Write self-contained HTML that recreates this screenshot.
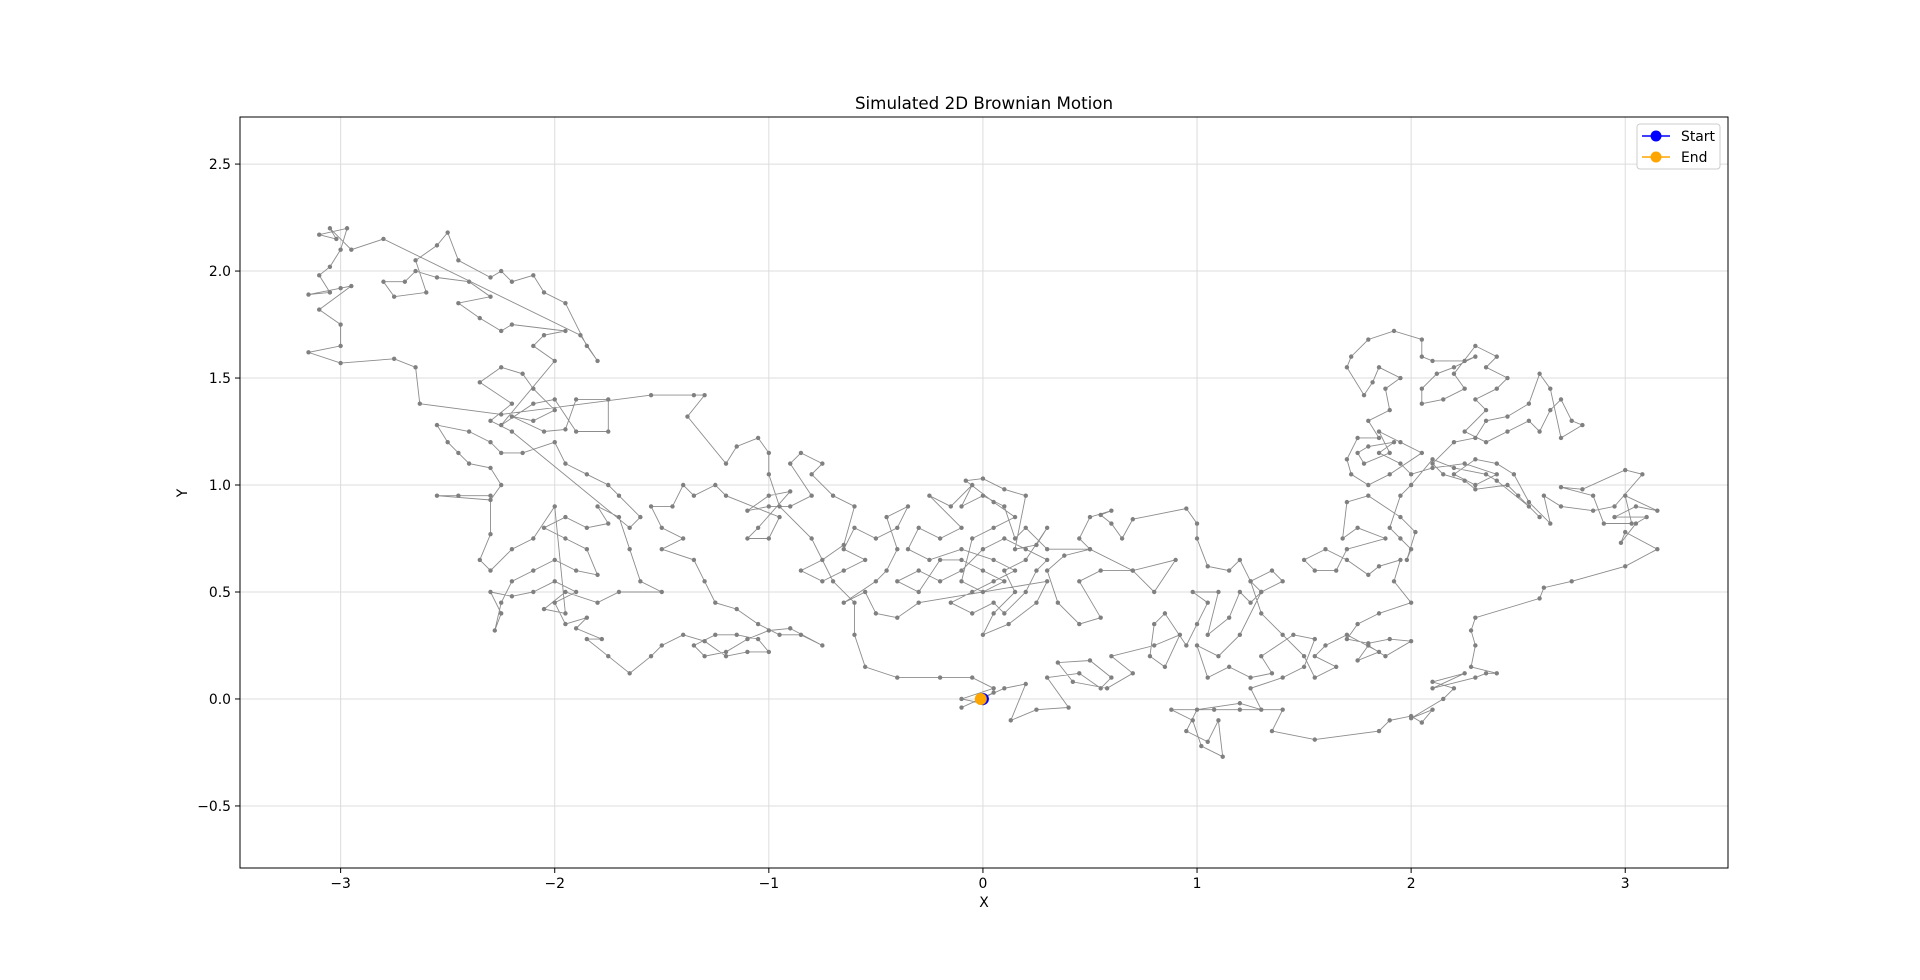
<!DOCTYPE html>
<html><head><meta charset="utf-8"><style>
html,body{margin:0;padding:0;background:#fff;}
svg text{font-family:"DejaVu Sans","Liberation Sans",sans-serif;fill:#000;}
</style></head><body>
<svg id="chart" width="1920" height="975" viewBox="0 0 1920 975" xmlns="http://www.w3.org/2000/svg">
<rect width="1920" height="975" fill="#fff"/>
<text x="984" y="109" font-size="16.7" text-anchor="middle">Simulated 2D Brownian Motion</text>
<g id="grid"></g>
<g id="series"></g>
<g id="axes"></g>
<text x="984" y="907" font-size="13.9" text-anchor="middle">X</text>
<text x="187" y="493" font-size="13.9" text-anchor="middle" transform="rotate(-90 187 493)">Y</text>
<g>
<rect x="1637" y="124" width="83" height="45" rx="3" fill="#fff" stroke="#ccc" stroke-width="1"/>
<g>
<line x1="1642" y1="136" x2="1670" y2="136" stroke="#0000ff" stroke-width="1.5"/>
<circle cx="1656" cy="136" r="5.5" fill="#0000ff"/>
<text x="1681" y="141" font-size="13.9">Start</text></g>
<g>
<line x1="1642" y1="157" x2="1670" y2="157" stroke="#ffa500" stroke-width="1.5"/>
<circle cx="1656" cy="157" r="5.5" fill="#ffa500"/>
<text x="1681" y="162" font-size="13.9">End</text></g>
</g>
</svg>
<script>
const xTicks=[-3,-2,-1,0,1,2,3];
const yTicks=[-0.5,0,0.5,1,1.5,2,2.5];
const xTickLabels=["\u22123","\u22122","\u22121","0","1","2","3"];
const yTickLabels=["\u22120.5","0.0","0.5","1.0","1.5","2.0","2.5"];
const xDomain=[-3.47,3.48];
const yDomain=[-0.79,2.72];
const startPoint=[0.0,0.0];
const endPoint=[-0.01,0.0];
const walkX=[];const walkY=[];
const walkPts=[
[0,0],[0.05,0.03],[-0.1,-0.04],[0.1,0.05],[0.2,0.07],[0.13,-0.1],[0.25,-0.05],[0.4,-0.04],[0.3,0.1],[0.45,0.12],[0.55,0.05],[0.6,0.1],[0.5,0.18],[0.35,0.17],[0.42,0.08],[0.58,0.05],[0.7,0.12],[0.6,0.2],[0.8,0.25],[0.92,0.3],[0.85,0.15],[0.78,0.2],[0.8,0.35],[0.85,0.4],[0.95,0.25],[1.0,0.35],[1.05,0.45],[0.98,0.5],[1.1,0.5],[1.05,0.3],[1.15,0.38],[1.2,0.5],[1.25,0.45],[1.3,0.5],[1.2,0.3],[1.1,0.2],[1.0,0.25],[1.05,0.1],[1.15,0.15],[1.25,0.1],[1.35,0.12],[1.3,0.2],[1.45,0.3],[1.55,0.28],[1.5,0.15],[1.4,0.1],[1.25,0.05],[1.3,-0.05],[1.2,-0.02],[1.0,-0.05],[0.95,-0.15],[1.05,-0.2],[1.1,-0.1],[1.12,-0.27],[1.02,-0.22],[0.98,-0.1],[0.88,-0.05],[1.08,-0.05],[1.2,-0.05],[1.4,-0.05],[1.35,-0.15],[1.55,-0.19],[1.85,-0.15],[1.9,-0.1],[2.0,-0.08],[2.05,-0.11],[2.1,-0.05],[2.0,-0.09],[2.15,0.0],[2.2,0.05],[2.1,0.08],[2.25,0.12],[2.1,0.05],[2.3,0.1],[2.35,0.12],[2.4,0.12],[2.28,0.15],[2.3,0.25],[2.28,0.32],[2.3,0.38],[2.6,0.47],[2.62,0.52],[2.75,0.55],[3.0,0.62],[3.15,0.7],[3.0,0.78],[2.98,0.73],[3.05,0.82],[3.1,0.85],[2.95,0.85],[3.05,0.9],[3.15,0.88],[3.0,0.95],[3.03,0.82],[2.9,0.82],[2.85,0.95],[2.7,0.99],[2.8,0.98],[3.0,1.07],[3.08,1.05],[2.95,0.9],[2.85,0.88],[2.7,0.9],[2.62,0.95],[2.65,0.82],[2.55,0.92],[2.48,1.05],[2.4,1.1],[2.3,1.12],[2.2,1.05],[2.3,1.0],[2.4,1.05],[2.25,1.1],[2.1,1.08],[2.0,1.05],[1.95,1.1],[1.85,1.15],[1.92,1.2],[1.8,1.18],[1.75,1.15],[1.78,1.1],[1.9,1.15],[1.85,1.25],[1.95,1.2],[2.05,1.15],[1.9,1.05],[1.8,1.0],[1.72,1.05],[1.7,1.12],[1.75,1.22],[1.85,1.22],[1.8,1.3],[1.9,1.35],[1.88,1.45],[1.95,1.5],[1.85,1.55],[1.82,1.48],[1.78,1.42],[1.7,1.55],[1.72,1.6],[1.8,1.68],[1.92,1.72],[2.05,1.68],[2.05,1.6],[2.1,1.58],[2.25,1.58],[2.3,1.6],[2.2,1.55],[2.12,1.52],[2.05,1.45],[2.05,1.38],[2.15,1.4],[2.25,1.45],[2.2,1.52],[2.3,1.65],[2.4,1.6],[2.35,1.55],[2.45,1.5],[2.4,1.45],[2.3,1.4],[2.35,1.35],[2.25,1.25],[2.35,1.2],[2.45,1.25],[2.55,1.3],[2.6,1.25],[2.65,1.35],[2.7,1.4],[2.75,1.3],[2.8,1.28],[2.7,1.22],[2.65,1.45],[2.6,1.52],[2.55,1.38],[2.45,1.32],[2.35,1.3],[2.3,1.22],[2.2,1.2],[2.1,1.1],[2.15,1.05],[2.25,1.02],[2.3,0.98],[2.45,1.0],[2.5,0.95],[2.6,0.85],[2.55,0.9],
[2.4,1.02],[2.35,1.05],[2.2,1.08],[2.1,1.12],[2.0,1.0],[1.95,0.95],[1.9,0.8],[1.95,0.75],[2.0,0.7],[1.98,0.65],[2.02,0.78],[1.95,0.85],[1.8,0.95],[1.7,0.92],[1.68,0.75],[1.75,0.8],[1.88,0.75],[1.7,0.7],[1.65,0.6],[1.55,0.6],[1.5,0.65],[1.6,0.7],[1.7,0.65],[1.8,0.58],[1.85,0.62],[1.95,0.65],[1.92,0.55],[2.0,0.45],[1.85,0.4],[1.75,0.35],[1.7,0.28],[1.8,0.26],[1.9,0.28],[2.0,0.27],[1.88,0.2],[1.8,0.25],[1.75,0.18],[1.85,0.22],[1.7,0.3],[1.6,0.25],[1.55,0.2],[1.65,0.15],[1.55,0.1],[1.5,0.2],[1.4,0.3],[1.3,0.4],[1.25,0.55],[1.3,0.5],[1.4,0.55],[1.35,0.6],[1.25,0.55],[1.2,0.65],[1.15,0.6],[1.05,0.62],[1.0,0.75],[1.0,0.82],[0.95,0.89],[0.7,0.84],[0.65,0.75],[0.6,0.82],[0.55,0.86],[0.6,0.88],[0.5,0.85],[0.45,0.75],[0.5,0.7],[0.38,0.67],[0.3,0.6],[0.35,0.45],[0.45,0.35],[0.55,0.38],[0.45,0.55],[0.55,0.6],[0.7,0.6],[0.9,0.65],[0.8,0.5],[0.7,0.6],[0.5,0.7],
[0.3,0.7],[0.2,0.8],[0.15,0.75],[0.1,0.9],[0.0,0.95],[-0.1,0.9],[-0.05,1.0],[-0.15,0.9],[-0.25,0.95],[-0.1,0.8],[-0.2,0.75],[-0.3,0.8],[-0.35,0.7],[-0.25,0.65],[-0.1,0.7],[0.05,0.65],[0.15,0.6],[0.05,0.55],[-0.05,0.5],[-0.15,0.45],[-0.05,0.4],[0.05,0.45],[0.1,0.4],[0.2,0.5],[0.25,0.6],[0.3,0.65],[0.2,0.7],[0.1,0.75],[0.0,0.7],[-0.1,0.6],[-0.2,0.55],[-0.3,0.6],[-0.4,0.55],[-0.3,0.5],[-0.2,0.65],[-0.1,0.65],[0.0,0.6],[0.1,0.55],[0.0,0.5],[-0.1,0.55],[-0.05,0.75],[0.05,0.8],[0.15,0.85],[0.05,0.92],[-0.08,1.02],[0.0,1.03],[0.1,0.98],[0.2,0.95],[0.15,0.7],[0.25,0.72],[0.3,0.8],[0.2,0.65],[0.1,0.6],[0.15,0.5],[0.05,0.4],[0.0,0.3],[0.12,0.35],[0.25,0.45],[0.3,0.55],
[-0.3,0.45],[-0.4,0.38],[-0.5,0.4],[-0.55,0.5],[-0.65,0.45],[-0.5,0.55],[-0.45,0.6],[-0.4,0.7],[-0.45,0.85],[-0.35,0.9],[-0.4,0.8],[-0.5,0.75],[-0.6,0.8],[-0.65,0.7],[-0.55,0.65],[-0.65,0.6],[-0.75,0.55],[-0.85,0.6],[-0.75,0.65],[-0.65,0.72],[-0.6,0.9],[-0.7,0.95],[-0.8,1.05],[-0.75,1.1],[-0.85,1.15],[-0.9,1.1],[-0.8,0.95],[-0.9,0.9],[-1.0,0.9],[-1.1,0.88],[-1.0,0.95],[-0.9,0.97],[-1.05,0.8],[-1.1,0.75],[-1.0,0.75],[-0.95,0.85],[-1.2,0.95],[-1.25,1.0],[-1.35,0.95],[-1.4,1.0],[-1.45,0.9],[-1.55,0.9],[-1.5,0.8],[-1.4,0.75],[-1.5,0.7],[-1.35,0.65],[-1.3,0.55],[-1.25,0.45],[-1.15,0.42],[-1.05,0.35],[-0.95,0.3],[-0.85,0.3],[-0.75,0.25],[-0.9,0.33],[-1.0,0.32],[-1.1,0.28],[-1.2,0.22],[-1.3,0.2],[-1.35,0.25],[-1.25,0.3],[-1.15,0.3],[-1.05,0.28],[-1.0,0.22],[-1.1,0.22],[-1.2,0.2],[-1.3,0.27],[-1.4,0.3],[-1.5,0.25],[-1.55,0.2],[-1.65,0.12],[-1.75,0.2],[-1.85,0.28],[-1.78,0.28],[-1.9,0.33],[-1.85,0.38],[-1.95,0.35],[-2.0,0.45],[-1.9,0.5],[-2.0,0.55],[-2.1,0.5],[-2.2,0.48],[-2.3,0.5],[-2.25,0.4],[-2.28,0.32],[-2.25,0.45],[-2.2,0.55],[-2.1,0.6],[-2.0,0.65],[-1.9,0.6],[-1.8,0.58],[-1.85,0.7],[-1.95,0.75],[-2.05,0.8],[-1.95,0.85],[-1.85,0.8],[-1.75,0.82],[-1.8,0.9],[-1.7,0.85],[-1.65,0.7],[-1.6,0.55],[-1.5,0.5],[-1.7,0.5],[-1.8,0.45],[-1.95,0.5],[-2.05,0.42],[-1.95,0.4],[-2.0,0.9],[-2.1,0.75],[-2.2,0.7],[-2.3,0.6],[-2.35,0.65],[-2.3,0.77],[-2.3,0.95],[-2.45,0.95],[-2.55,0.95],[-2.3,0.93],[-2.25,1.0],[-2.3,1.08],[-2.4,1.1],[-2.45,1.15],[-2.5,1.2],[-2.55,1.28],[-2.4,1.25],[-2.3,1.2],[-2.25,1.15],[-2.15,1.15],[-2.0,1.2],[-1.95,1.1],[-1.85,1.05],[-1.75,1.0],[-1.7,0.95],[-1.6,0.85],[-1.65,0.8],
[-2.2,1.25],[-2.3,1.3],[-2.2,1.38],[-2.35,1.48],[-2.25,1.55],[-2.15,1.52],[-2.1,1.45],[-2.0,1.35],[-2.1,1.3],[-2.2,1.32],[-2.05,1.25],[-1.95,1.26],[-1.9,1.4],[-1.75,1.4],[-1.75,1.25],[-1.9,1.25],[-2.0,1.4],[-2.1,1.38],[-2.25,1.28],[-2.0,1.58],[-2.1,1.65],[-2.05,1.7],[-1.95,1.72],[-2.2,1.75],[-2.25,1.72],[-2.35,1.78],[-2.45,1.85],[-2.3,1.88],[-2.4,1.95],[-2.55,1.97],[-2.65,2.0],[-2.7,1.95],[-2.8,1.95],[-2.75,1.88],[-2.6,1.9],[-2.65,2.05],[-2.55,2.12],[-2.5,2.18],[-2.45,2.05],[-2.3,1.97],[-2.25,2.0],[-2.2,1.95],[-2.1,1.98],[-2.05,1.9],[-1.95,1.85],[-1.85,1.65],[-1.8,1.58],[-1.88,1.7],
[-2.8,2.15],[-2.95,2.1],[-3.05,2.2],[-3.02,2.15],[-3.1,2.17],[-2.97,2.2],[-3.0,2.1],[-3.05,2.02],[-3.1,1.98],[-3.05,1.9],[-3.15,1.89],[-3.0,1.92],[-2.95,1.93],[-3.1,1.82],[-3.0,1.75],[-3.0,1.65],[-3.15,1.62],[-3.0,1.57],[-2.75,1.59],[-2.65,1.55],[-2.63,1.38],[-2.25,1.33],
[-1.55,1.42],[-1.35,1.42],[-1.3,1.42],[-1.38,1.32],[-1.2,1.1],[-1.15,1.18],[-1.05,1.22],[-1.0,1.15],[-1.0,1.05],[-0.95,0.9],[-0.8,0.75],[-0.7,0.55],[-0.6,0.45],[-0.6,0.3],[-0.55,0.15],[-0.4,0.1],[-0.2,0.1],[-0.05,0.1],[0.05,0.05],[-0.1,0.0],[0.0,-0.02],[-0.01,0.0]
];
walkPts.forEach(p=>{walkX.push(p[0]);walkY.push(p[1]);});

const L=240,T=117,W=1488,H=751;
const sx=v=>L+(v-xDomain[0])/(xDomain[1]-xDomain[0])*W;
const sy=v=>T+H-(v-yDomain[0])/(yDomain[1]-yDomain[0])*H;
const NS="http://www.w3.org/2000/svg";
function mk(tag,attrs,parent){const e=document.createElementNS(NS,tag);for(const k in attrs)e.setAttribute(k,attrs[k]);parent.appendChild(e);return e;}
const grid=document.getElementById('grid'),axes=document.getElementById('axes'),series=document.getElementById('series');
xTicks.forEach((t,i)=>{
  const x=sx(t);
  const g=mk('line',{x1:x,x2:x,y1:T,y2:T+H,stroke:'#dcdcdc','stroke-width':1},grid);
  
  
  const tk=mk('line',{x1:x,x2:x,y1:T+H,y2:T+H+5,stroke:'#000','stroke-width':1},axes);
  
  
  const lb=mk('text',{x:x,y:T+H+20,'font-size':13.9,'text-anchor':'middle'},axes);
  lb.textContent=xTickLabels[i];
  
  
});
yTicks.forEach((t,i)=>{
  const y=sy(t);
  const g=mk('line',{x1:L,x2:L+W,y1:y,y2:y,stroke:'#dcdcdc','stroke-width':1},grid);
  
  
  const tk=mk('line',{x1:L-5,x2:L,y1:y,y2:y,stroke:'#000','stroke-width':1},axes);
  
  
  const lb=mk('text',{x:L-9,y:y+5,'font-size':13.9,'text-anchor':'end'},axes);
  lb.textContent=yTickLabels[i];
  
  
});
const frame=mk('rect',{x:L,y:T,width:W,height:H,fill:'none',stroke:'#000','stroke-width':1},axes);


let d='';
for(let i=0;i<walkX.length;i++){d+=(i?'L':'M')+sx(walkX[i]).toFixed(1)+' '+sy(walkY[i]).toFixed(1);}
const path=mk('path',{d:d,fill:'none',stroke:'#808080','stroke-width':0.9,'stroke-opacity':0.9},series);


for(let i=0;i<walkX.length;i++){
  const c=mk('circle',{cx:sx(walkX[i]),cy:sy(walkY[i]),r:2.2,fill:'#808080'},series);
  
  
}
const s=mk('circle',{cx:sx(startPoint[0]),cy:sy(startPoint[1]),r:6,fill:'#0000ff'},series);


const e=mk('circle',{cx:sx(endPoint[0]),cy:sy(endPoint[1]),r:6,fill:'#ffa500'},series);


</script>
</body></html>
